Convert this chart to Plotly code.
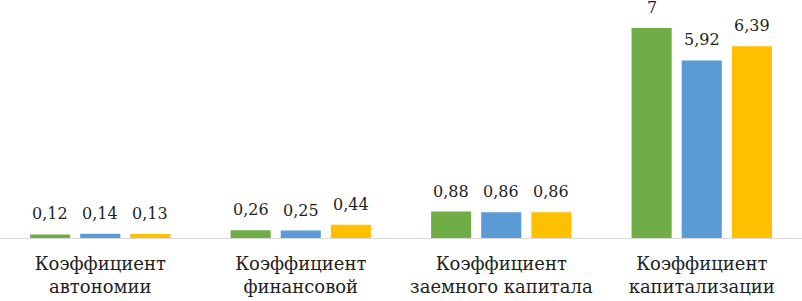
import plotly.graph_objects as go

categories = ["Коэффициент<br>автономии", "Коэффициент<br>финансовой",
              "Коэффициент<br>заемного капитала", "Коэффициент<br>капитализации"]
series_names = ["Период 1", "Период 2", "Период 3"]
values_1 = [0.12, 0.26, 0.88, 7.00]
values_2 = [0.14, 0.25, 0.86, 5.92]
values_3 = [0.13, 0.44, 0.86, 6.39]
label_1 = ["0,12", "0,26", "0,88", "7"]
label_2 = ["0,14", "0,25", "0,86", "5,92"]
label_3 = ["0,13", "0,44", "0,86", "6,39"]

colors = ["#70AD47", "#5B9BD5", "#FFC000"]
FONT = "DejaVu Serif"
TEXT_COLOR = "#1F1F1F"

# bar layout: category slot width in px and bar pitch inside a group
SLOT_PX = 802 / 4
BARGAP = 0.25
PITCH_PX = SLOT_PX * (1 - BARGAP) / 3

fig = go.Figure()
all_vals = [values_1, values_2, values_3]
all_labs = [label_1, label_2, label_3]
for name, vals, col in zip(series_names, all_vals, colors):
    fig.add_trace(go.Bar(
        x=categories, y=vals, name=name, marker_color=col,
        marker_line_width=0, hoverinfo="skip",
    ))

for k, (vals, labs) in enumerate(zip(all_vals, all_labs)):
    for cat, v, lab in zip(categories, vals, labs):
        fig.add_annotation(
            x=cat, y=v, text=lab, showarrow=False,
            xshift=(k - 1) * PITCH_PX, yshift=9, yanchor="bottom",
            font=dict(family=FONT, size=16, color=TEXT_COLOR),
        )

fig.update_layout(
    width=802, height=301,
    margin=dict(l=0, r=0, t=0, b=63, autoexpand=False),
    barmode="group", bargap=BARGAP, bargroupgap=0.2,
    plot_bgcolor="white", paper_bgcolor="white",
    showlegend=False,
    font=dict(family=FONT, size=18, color=TEXT_COLOR),
)
fig.update_xaxes(showline=True, linecolor="#D9D9D9", linewidth=1, automargin=False,
                 ticks="", tickfont=dict(family=FONT, size=18, color=TEXT_COLOR),
                 ticklabelstandoff=9)
fig.update_yaxes(range=[0, 238 / 30], visible=False, showgrid=False, zeroline=False,
                 automargin=False)

fig.write_html("out.html", config={"displayModeBar": False},
               post_script="document.body.style.margin='0';")
